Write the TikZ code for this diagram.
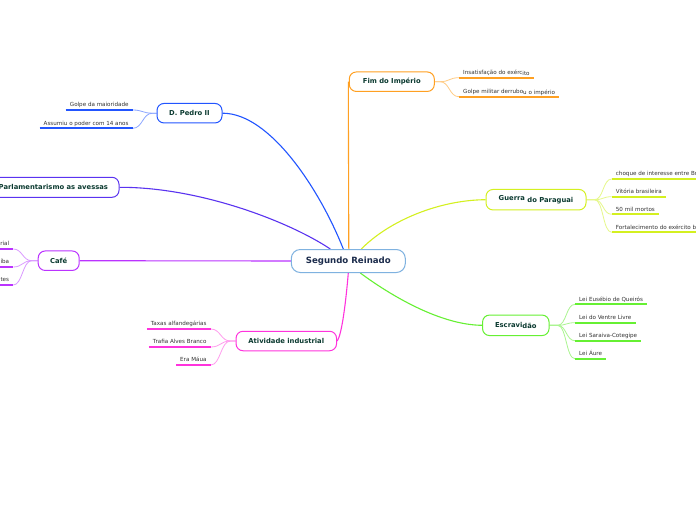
\documentclass[tikz,border=0pt]{standalone}
\usepackage{fontspec}
\setmainfont{DejaVu Sans}
\usetikzlibrary{backgrounds}
\definecolor{cCenter}{HTML}{7FB2E0}
\definecolor{ctext}{HTML}{1B2B4B}
\definecolor{ntext}{HTML}{0B3A30}
\definecolor{ltext}{HTML}{333333}
\definecolor{cPedro}{HTML}{2255FF}
\definecolor{cPedroL}{HTML}{8CA6FF}
\definecolor{cParl}{HTML}{5A33F0}
\definecolor{cCafe}{HTML}{BB33FF}
\definecolor{cCafeL}{HTML}{DA99FF}
\definecolor{cInd}{HTML}{FF33DD}
\definecolor{cIndL}{HTML}{FF9CEE}
\definecolor{cFim}{HTML}{FFA022}
\definecolor{cFimL}{HTML}{FFCC85}
\definecolor{cGue}{HTML}{D4F020}
\definecolor{cGueL}{HTML}{E6F88A}
\definecolor{cEsc}{HTML}{66F033}
\definecolor{cEscL}{HTML}{AAF590}
\tikzset{
  x=1pt,y=-1pt,
  branch/.style={draw=#1, rounded corners=7pt, line width=1pt, fill=white, text=ntext,
    font=\bfseries\fontsize{6.8}{8}\selectfont, minimum height=19.5pt, inner xsep=0pt, inner ysep=0pt},
  centre/.style={draw=cCenter, rounded corners=9pt, line width=1pt, fill=white, minimum width=114pt,
    minimum height=23pt, font=\bfseries\fontsize{8.6}{10}\selectfont, text=ctext, inner sep=0pt},
  leafR/.style={anchor=south west, inner xsep=4pt, inner ysep=3pt, text depth=0pt, text height=4.2pt,
    font=\fontsize{5.6}{6.5}\selectfont, text=ltext},
  leafL/.style={leafR, anchor=south east},
  uline/.style={draw=#1, line width=2pt},
  mconn/.style={draw=#1, line width=1.1pt},
  lconn/.style={draw=#1, line width=0.8pt},
}
\begin{document}
\begin{tikzpicture}
% nodes
\node[centre] (sr) at (348.3,261) {Segundo Reinado};
\node[branch=cPedro, minimum width=65pt] (pedro) at (189.5,113.2) {D. Pedro II};
\node[branch=cParl, anchor=east, inner xsep=11pt, minimum height=20pt] (parl) at (119.5,187.3) {Parlamentarismo as avessas};
\node[branch=cCafe, minimum width=41pt] (cafe) at (58.7,260.7) {Café};
\node[branch=cInd, minimum width=100.5pt] (ind) at (286.3,341) {Atividade industrial};
\node[branch=cFim, minimum width=85pt] (fim) at (391.8,81.7) {Fim do Império};
\node[branch=cGue, minimum width=100pt, minimum height=20.5pt] (gue) at (536,199.7) {Guerra \raisebox{-1.7pt}{do Paraguai}};
\node[branch=cEsc, minimum width=66.5pt, minimum height=20.5pt] (esc) at (515.8,325.3) {Escravi\raisebox{-1.2pt}{dão}};
% leaves
\node[leafL] (p1) at (132.7,110) {Golpe da maioridade};
\node[leafL] (p2) at (132.7,128.3) {Assumiu o poder com 14 anos};
\node[leafL] (c1) at (13.3,249) {Base da economia imperial};
\node[leafL] (c2) at (13.3,267) {Vale do Paraíba};
\node[leafL] (c3) at (13.3,285) {Imigrantes};
\node[leafL] (i1) at (210.7,329) {Taxas alfandegárias};
\node[leafL] (i2) at (210.7,347) {Trafia Alves Branco};
\node[leafL] (i3) at (210.7,365) {Era Máua};
\node[leafR] (f1) at (459,77.7) {Insatisfação do exérc\raisebox{-1pt}{ito}};
\node[leafR] (f2) at (459,96.7) {Golpe militar derrubo\raisebox{-1.3pt}{u o império}};
\node[leafR] (g1) at (611.7,179) {choque de interesse entre Brasil e Paraguai};
\node[leafR] (g2) at (611.7,196.7) {Vitória brasileira};
\node[leafR] (g3) at (611.7,214.3) {50 mil mortos};
\node[leafR] (g4) at (611.7,232.3) {Fortalecimento do exército brasileiro};
\node[leafR] (e1) at (575,304.3) {Lei Eusébio de Queirós};
\node[leafR] (e2) at (575,322.7) {Lei do Ventre Livre};
\node[leafR] (e3) at (575,340.7) {Lei Saraiva-Cotegipe};
\node[leafR] (e4) at (575,358.7) {Lei Áure};
% underlines
\foreach \n/\c in {p1/cPedro,p2/cPedro,c1/cCafe,c2/cCafe,c3/cCafe,i1/cInd,i2/cInd,i3/cInd,
  f1/cFim,f2/cFim,g1/cGue,g2/cGue,g3/cGue,g4/cGue,e1/cEsc,e2/cEsc,e3/cEsc,e4/cEsc}
  \draw[uline=\c] (\n.south west) -- (\n.south east);
\begin{scope}[on background layer]
\fill[white] (0,0) rectangle (696,520);
% leaf connectors
\foreach \n in {p1,p2}
  \draw[lconn=cPedroL] (pedro.west) -- ++(-4,0) .. controls +(-10,0) and +(10,0) .. (\n.south east);
\foreach \n in {c1,c2,c3}
  \draw[lconn=cCafeL] (cafe.west) -- ++(-6,0) .. controls +(-9,0) and +(9,0) .. (\n.south east);
\foreach \n in {i1,i2,i3}
  \draw[lconn=cIndL] (ind.west) -- ++(-5,0) .. controls +(-10,0) and +(10,0) .. (\n.south east);
\foreach \n in {f1,f2}
  \draw[lconn=cFimL] (fim.east) -- ++(5,0) .. controls +(10,0) and +(-10,0) .. (\n.south west);
\foreach \n in {g1,g2,g3,g4}
  \draw[lconn=cGueL] (gue.east) -- ++(8,0) .. controls +(9,0) and +(-9,0) .. (\n.south west);
\foreach \n in {e1,e2,e3,e4}
  \draw[lconn=cEscL] (esc.east) -- ++(8,0) .. controls +(9,0) and +(-9,0) .. (\n.south west);
% main connectors
\draw[mconn=cPedro] (pedro.east) .. controls (270,113) and (320,190) .. ([xshift=-5pt]sr.north);
\draw[mconn=cParl] (parl.east) .. controls (200,187) and (290,222) .. ([xshift=-18pt]sr.north);
\draw[mconn=cCafe] (cafe.east) -- (sr.west);
\draw[mconn=cFim] ([xshift=-0.5pt]fim.west) -- ([xshift=0.5pt]sr.north);
\draw[mconn=cGue] (gue.west) .. controls (440,200) and (390,220) .. ([xshift=13pt]sr.north);
\draw[mconn=cEsc] (esc.west) .. controls (440,325) and (390,295) .. ([xshift=12pt]sr.south);
\draw[mconn=cInd] (ind.east) .. controls (342,335) and (346,300) .. (sr.south);
\end{scope}
\pgfresetboundingbox
\useasboundingbox (0,0) rectangle (696,520);
\end{tikzpicture}
\end{document}
